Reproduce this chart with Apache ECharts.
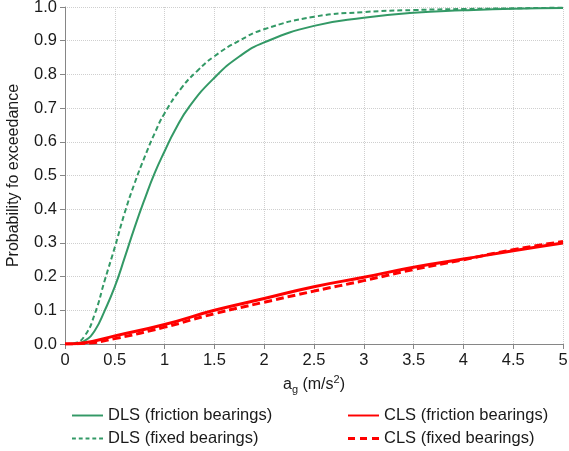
<!DOCTYPE html>
<html>
<head>
<meta charset="utf-8">
<script src="https://cdn.jsdelivr.net/npm/echarts@6/dist/echarts.min.js"></script>
<style>
  html, body { margin: 0; padding: 0; background: #fff; }
  #chart { width: 569px; height: 451px; }
</style>
</head>
<body>
<div id="chart"></div>
<script>
// values
const dlsFrictionX = [0, 0.1, 0.2, 0.3, 0.4, 0.5, 0.6, 0.7, 0.8, 0.9, 1.0, 1.1, 1.25, 1.5, 1.75, 2.0, 2.5, 3.0, 3.5, 4.0, 4.5, 5.0];
const dlsFrictionY = [0, 0.001, 0.01, 0.04, 0.1, 0.17, 0.257, 0.347, 0.43, 0.507, 0.572, 0.632, 0.705, 0.79, 0.853, 0.895, 0.944, 0.968, 0.983, 0.99, 0.995, 0.997];

const dlsFixedX = [0, 0.1, 0.2, 0.3, 0.4, 0.5, 0.6, 0.7, 0.8, 0.9, 1.0, 1.17, 1.33, 1.5, 1.75, 2.0, 2.5, 3.0, 3.5, 4.0, 4.5, 5.0];
const dlsFixedY = [0, 0.003, 0.025, 0.09, 0.19, 0.287, 0.39, 0.478, 0.555, 0.625, 0.685, 0.76, 0.811, 0.854, 0.9, 0.934, 0.971, 0.985, 0.991, 0.994, 0.996, 0.998];

const clsFrictionX = [0, 0.2, 0.5, 1.0, 1.5, 2.0, 2.5, 3.0, 3.5, 4.0, 4.5, 5.0];
const clsFrictionY = [0, 0.004, 0.024, 0.058, 0.1, 0.135, 0.17, 0.198, 0.228, 0.252, 0.277, 0.3];

const clsFixedX = [0, 0.2, 0.5, 1.0, 1.5, 2.0, 2.5, 3.0, 3.5, 4.0, 4.5, 5.0];
const clsFixedY = [0, 0.002, 0.016, 0.05, 0.09, 0.124, 0.157, 0.188, 0.221, 0.25, 0.28, 0.304];

const seriesNames = ["DLS (friction bearings)", "DLS (fixed bearings)", "CLS (friction bearings)", "CLS (fixed bearings)"];

function pairs(xs, ys) {
    return xs.map((x, i) => [x, ys[i]]);
}

const FONT = "Liberation Sans";
const green = "#339966";
const red = "#ff0000";

// legend icons: plain line / dashed line, drawn as paths
const solidIcon = "path://M0,0h32v2h-32z";
const greenDashIcon = "path://M0,0h4v2h-4zM7,0h4v2h-4zM14,0h4v2h-4zM21,0h4v2h-4zM28,0h4v2h-4z";
const redDashIcon = "path://M0,0h7v3h-7zM12,0h7v3h-7zM24,0h7v3h-7z";

function legendItem(name, icon, color, left, top, h) {
    return {
        left: left,
        top: top,
        orient: "vertical",
        icon: icon,
        itemWidth: 31,
        itemHeight: h,
        itemGap: 0,
        itemStyle: { color: color, borderWidth: 0 },
        textStyle: { fontFamily: FONT, fontSize: 16.5, color: "#1a1a1a" },
        data: [name],
    };
}

let chart = echarts.init(document.getElementById("chart"));
let option = {
    animation: false,
    textStyle: { fontFamily: FONT },
    grid: { left: 65, right: 6, top: 7, bottom: 107, outerBoundsMode: "none" },
    legend: [
        legendItem(seriesNames[0], solidIcon, green, 67, 402, 2),
        legendItem(seriesNames[1], greenDashIcon, green, 67, 425, 2),
        legendItem(seriesNames[2], solidIcon, red, 343, 402, 3),
        legendItem(seriesNames[3], redDashIcon, red, 343, 425, 3),
    ],
    xAxis: {
        type: "value",
        min: 0,
        max: 5,
        interval: 0.5,
        name: "{t|a}{sub|g}{t| (m/s}{sup|2}{t|)}",
        nameLocation: "middle",
        nameGap: 30,
        nameTextStyle: {
            rich: {
                t: { fontFamily: FONT, fontSize: 16, color: "#1a1a1a" },
                sub: { fontFamily: FONT, fontSize: 11, color: "#1a1a1a", padding: [10, 0, 0, 0] },
                sup: { fontFamily: FONT, fontSize: 11, color: "#1a1a1a", padding: [0, 0, 10, 0] },
            },
        },
        axisLine: { lineStyle: { color: "#868686", width: 1 } },
        axisTick: { show: true, length: 5, lineStyle: { color: "#868686" } },
        axisLabel: { fontFamily: FONT, fontSize: 16.5, color: "#1a1a1a", margin: 8 },
        splitLine: { show: true, lineStyle: { type: "dotted", color: "#cfcfcf" } },
    },
    yAxis: {
        type: "value",
        min: 0,
        max: 1,
        interval: 0.1,
        name: "Probability fo exceedance",
        nameLocation: "middle",
        nameGap: 43,
        nameTextStyle: { fontFamily: FONT, fontSize: 16, color: "#1a1a1a" },
        axisLine: { show: true, lineStyle: { color: "#868686", width: 1 } },
        axisTick: { show: true, length: 5, lineStyle: { color: "#868686" } },
        axisLabel: {
            fontFamily: FONT, fontSize: 16.5, color: "#1a1a1a", margin: 8,
            formatter: (v) => v.toFixed(1),
        },
        splitLine: { show: true, lineStyle: { type: "dotted", color: "#cfcfcf" } },
    },
    series: [
        {
            name: seriesNames[0], type: "line", symbol: "none", smooth: 0.5,
            lineStyle: { color: green, width: 2 }, itemStyle: { color: green },
            data: pairs(dlsFrictionX, dlsFrictionY),
        },
        {
            name: seriesNames[1], type: "line", symbol: "none", smooth: 0.5,
            lineStyle: { color: green, width: 2, type: [5, 3] }, itemStyle: { color: green },
            data: pairs(dlsFixedX, dlsFixedY),
        },
        {
            name: seriesNames[2], type: "line", symbol: "none", smooth: 0.5,
            lineStyle: { color: red, width: 3 }, itemStyle: { color: red },
            data: pairs(clsFrictionX, clsFrictionY),
        },
        {
            name: seriesNames[3], type: "line", symbol: "none", smooth: 0.5,
            lineStyle: { color: red, width: 3, type: [8, 4] }, itemStyle: { color: red },
            data: pairs(clsFixedX, clsFixedY),
        },
    ],
};
chart.setOption(option);
</script>
</body>
</html>
